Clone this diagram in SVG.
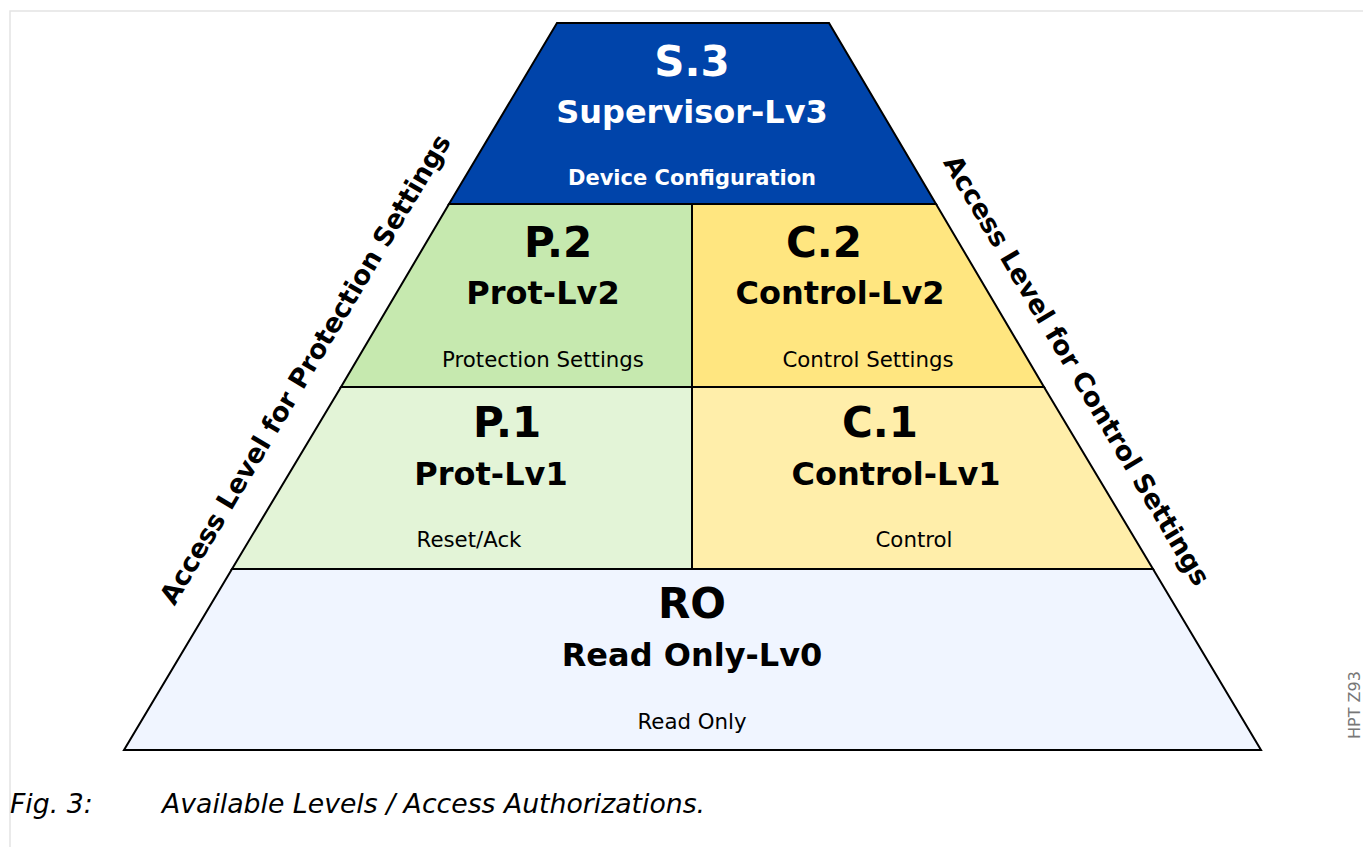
<svg xmlns="http://www.w3.org/2000/svg" width="1363" height="847" viewBox="0 0 1363 847">
<style>
.shape{stroke:#000;stroke-width:2;stroke-linejoin:miter}
.big{font-family:"DejaVu Sans",sans-serif;font-weight:bold;font-size:42px;text-anchor:middle}
.mid{font-family:"DejaVu Sans",sans-serif;font-weight:bold;font-size:32px;text-anchor:middle}
.small{font-family:"DejaVu Sans",sans-serif;font-size:21.3px;text-anchor:middle}
.smallb{font-family:"DejaVu Sans",sans-serif;font-weight:bold;font-size:21px;text-anchor:middle}
.side{font-family:"DejaVu Sans",sans-serif;font-weight:bold;font-size:26.5px;text-anchor:middle}
.cap{font-family:"DejaVu Sans",sans-serif;font-style:italic;font-size:26.7px}
</style>
<rect x="10" y="11" width="1400" height="900" fill="#fff" stroke="#e4e4e4" stroke-width="1.5"/>
<g id="node-ro">
<polygon class="shape" points="232,569 1153,569 1261,750 124,750" fill="#f0f5ff"/>
<text class="big" x="692" y="618">RO</text>
<text class="mid" x="692" y="666">Read Only-Lv0</text>
<text class="small" x="692" y="729">Read Only</text>
</g>
<g id="node-p1">
<polygon class="shape" points="341,387 692,387 692,569 232,569" fill="#e3f4d7"/>
<text class="big" x="507" y="437">P.1</text>
<text class="mid" x="491" y="485">Prot-Lv1</text>
<text class="small" x="469" y="547">Reset/Ack</text>
</g>
<g id="node-c1">
<polygon class="shape" points="692,387 1044,387 1153,569 692,569" fill="#ffeeaa"/>
<text class="big" x="880" y="437">C.1</text>
<text class="mid" x="896" y="485">Control-Lv1</text>
<text class="small" x="914" y="547">Control</text>
</g>
<g id="node-p2">
<polygon class="shape" points="449,204 692,204 692,387 341,387" fill="#c6e9af"/>
<text class="big" x="558" y="257">P.2</text>
<text class="mid" x="543" y="304">Prot-Lv2</text>
<text class="small" x="543" y="367">Protection Settings</text>
</g>
<g id="node-c2">
<polygon class="shape" points="692,204 936,204 1044,387 692,387" fill="#ffe680"/>
<text class="big" x="824" y="257">C.2</text>
<text class="mid" x="840" y="304">Control-Lv2</text>
<text class="small" x="868" y="367">Control Settings</text>
</g>
<g id="node-s3">
<polygon class="shape" points="557,23 829,23 936,204 449,204" fill="#0044aa"/>
<text class="big" x="692" y="76" fill="#fff">S.3</text>
<text class="mid" x="692" y="123" fill="#fff">Supervisor-Lv3</text>
<text class="smallb" x="692" y="185" fill="#fff">Device Configuration</text>
</g>
<g id="connectors"></g>
<g id="labels">
<text class="side" transform="translate(313,374) rotate(-59.2)">Access Level for Protection Settings</text>
<text class="side" transform="translate(1069,375) rotate(59.3)">Access Level for Control Settings</text>
<text transform="translate(1360,705) rotate(-90)" font-family="DejaVu Sans, sans-serif" font-size="16" fill="#777" text-anchor="middle">HPT Z93</text>
<text class="cap" x="10" y="813">Fig. 3:</text>
<text class="cap" x="162" y="813">Available Levels / Access Authorizations.</text>
</g>
</svg>
